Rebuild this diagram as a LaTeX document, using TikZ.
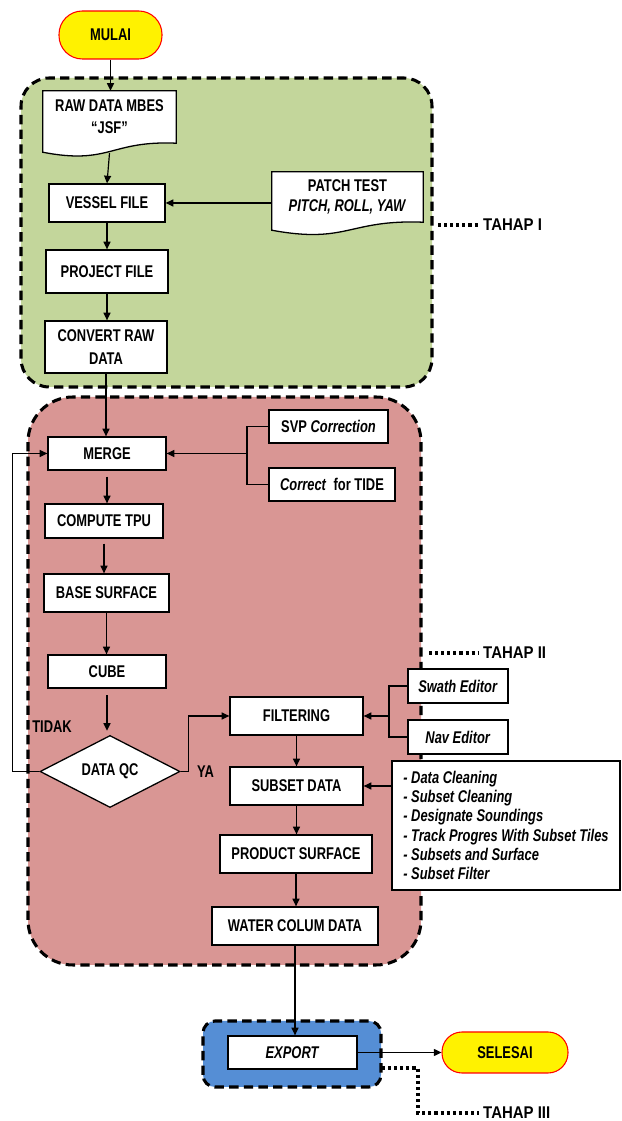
\documentclass[tikz,border=0pt]{standalone}
\usepackage{fontspec}
\setmainfont{Liberation Sans}[FakeStretch=0.76]
\newfontfamily\tahapfont{Liberation Sans}[FakeStretch=0.88]
\usetikzlibrary{arrows.meta,shapes.geometric,positioning}

\definecolor{tahapone}{RGB}{195,214,155}
\definecolor{tahaptwo}{RGB}{217,150,148}
\definecolor{tahapthree}{RGB}{85,142,213}

\newcommand{\chartfont}{\fontsize{14.5}{17}\selectfont\bfseries}

\tikzset{
  box/.style={draw, line width=1.1pt, fill=white, inner sep=0pt, align=center, font=\chartfont},
  docbox/.style={fill=white, inner sep=0pt, align=center, font=\chartfont},
  docline/.style={line width=1.1pt},
  term/.style={draw=red, line width=0.9pt, fill=yellow, inner sep=0pt, font=\chartfont},
  decision/.style={diamond, draw, line width=1.1pt, fill=white, inner sep=0pt, font=\chartfont},
  stage/.style={draw, line width=2.6pt, dash pattern=on 8pt off 4.5pt},
  arr/.style={line width=1pt, -{Triangle[length=6.5pt,width=6pt]}},
  link/.style={line width=1pt},
  tahapline/.style={line width=2.8pt, dash pattern=on 2.6pt off 2.6pt, shorten >=3pt},
  tahaplabel/.style={anchor=west, inner sep=0pt, font=\fontsize{14.5}{17}\tahapfont\bfseries}
}

\begin{document}
\begin{tikzpicture}
            \useasboundingbox (0,0) rectangle (18.66,33.63);

            % Drawing stage areas
            \draw [stage, fill=tahapone, rounded corners=0.85cm] (0.63,22.02) rectangle (12.96,31.29);%
            \draw [stage, fill=tahaptwo, rounded corners=1.35cm] (0.84,4.68) rectangle (12.63,21.72);%
            \draw [stage, fill=tahapthree, rounded corners=0.36cm] (6.09,1.02) rectangle (11.43,3.00);%

            % Start and end
            \node [term, rounded corners=0.7cm, minimum width=3.09cm, minimum height=1.44cm] (mulai) at (3.315,32.58) {MULAI};%
            \node [term, rounded corners=0.6cm, minimum width=3.78cm, minimum height=1.23cm] (selesai) at (15.15,2.055) {SELESAI};%

            % Drawing document RAW DATA MBES
            \node [docbox, minimum width=3.99cm, minimum height=1.56cm] (raw) at (3.285,30.12) {RAW DATA MBES\\[2pt]“JSF”};%
            \fill [white] (raw.south east) .. controls ([xshift=-1.98cm,yshift=0.09cm]raw.south east) and ([xshift=2.01cm,yshift=-0.66cm]raw.south west) .. ([yshift=-0.27cm]raw.south west) -- (raw.south west) -- cycle;%
            \draw [docline] (raw.south east) .. controls ([xshift=-1.98cm,yshift=0.09cm]raw.south east) and ([xshift=2.01cm,yshift=-0.66cm]raw.south west) .. ([yshift=-0.27cm]raw.south west) -- (raw.north west) -- (raw.north east) -- cycle;%

            % Drawing document PATCH TEST
            \node [docbox, minimum width=4.53cm, minimum height=1.5cm] (patch) at (10.425,27.72) {PATCH TEST\\\textit{PITCH, ROLL, YAW}};%
            \fill [white] (patch.south east) .. controls ([xshift=-2.25cm,yshift=0.09cm]patch.south east) and ([xshift=2.28cm,yshift=-0.66cm]patch.south west) .. ([yshift=-0.24cm]patch.south west) -- (patch.south west) -- cycle;%
            \draw [docline] (patch.south east) .. controls ([xshift=-2.25cm,yshift=0.09cm]patch.south east) and ([xshift=2.28cm,yshift=-0.66cm]patch.south west) .. ([yshift=-0.24cm]patch.south west) -- (patch.north west) -- (patch.north east) -- cycle;%

            % Boxes of stage I
            \node [box, minimum width=3.48cm, minimum height=1.14cm] (vessel) at (3.21,27.54) {VESSEL FILE};%
            \node [box, minimum width=3.66cm, minimum height=1.29cm] (project) at (3.21,25.485) {PROJECT FILE};%
            \node [box, minimum width=3.66cm, minimum height=1.56cm] (convert) at (3.18,23.22) {CONVERT RAW\\[2pt]DATA};%

            % Boxes of stage II
            \node [box, minimum width=3.54cm, minimum height=0.99cm] (merge) at (3.21,20.025) {MERGE};%
            \node [box, minimum width=3.57cm, minimum height=0.99cm] (svp) at (9.855,20.835) {SVP \textit{Correction}};%
            \node [box, minimum width=3.78cm, minimum height=0.99cm] (tide) at (9.96,19.095) {\textit{Correct}\ \ for TIDE};%
            \node [box, minimum width=3.54cm, minimum height=1.02cm] (tpu) at (3.12,18.00) {COMPUTE TPU};%
            \node [box, minimum width=3.75cm, minimum height=1.14cm] (base) at (3.195,15.84) {BASE SURFACE};%
            \node [box, minimum width=3.54cm, minimum height=0.99cm] (cube) at (3.21,13.485) {CUBE};%
            \node [decision, minimum width=4.2cm, minimum height=2.13cm] (qc) at (3.30,10.485) {DATA QC};%
            \node [box, minimum width=3.99cm, minimum height=1.14cm] (filter) at (8.895,12.15) {FILTERING};%
            \node [box, minimum width=3.0cm, minimum height=1.02cm] (swath) at (13.74,13.05) {\textit{Swath Editor}};%
            \node [box, minimum width=3.0cm, minimum height=1.02cm] (nav) at (13.74,11.52) {\textit{Nav Editor}};%
            \node [box, minimum width=3.99cm, minimum height=1.14cm] (subset) at (8.895,10.05) {SUBSET DATA};%
            \node [box, align=left, minimum width=6.84cm, minimum height=3.87cm, font=\fontsize{14.5}{16.4}\selectfont\bfseries\itshape] (tools) at (15.18,8.865)
                {- Data Cleaning\\- Subset Cleaning\\- Designate Soundings\\- Track Progres With Subset Tiles\\- Subsets and Surface\\- Subset Filter};%
            \node [box, minimum width=4.56cm, minimum height=1.14cm] (product) at (8.88,8.01) {PRODUCT SURFACE};%
            \node [box, minimum width=4.98cm, minimum height=1.14cm] (water) at (8.85,5.85) {WATER COLUM DATA};%

            % Box of stage III
            \node [box, minimum width=3.87cm, minimum height=0.99cm] (export) at (8.775,2.055) {\textit{EXPORT}};%

            % Decision labels
            \node [inner sep=0pt, font=\chartfont] (tidak) at (1.56,11.82) {TIDAK};%
            \node [inner sep=0pt, font=\chartfont] (ya) at (6.165,10.47) {YA};%

            % Drawing main flow
            \draw [arr] (mulai.south) -- (mulai.south |- raw.north);%
            \draw [arr] ([yshift=-0.3cm]raw.south) -- (vessel.north);%
            \draw [arr] (patch.west |- vessel) -- (vessel.east);%
            \draw [arr] (vessel.south) -- (vessel.south |- project.north);%
            \draw [arr] (project.south) -- (project.south |- convert.north);%
            \draw [arr] (convert.south) -- (convert.south |- merge.north);%
            \draw [arr, shorten <=0.18cm] (merge.south) -- (merge.south |- tpu.north);%
            \draw [arr, shorten <=0.15cm] (tpu.south) -- (tpu.south |- base.north);%
            \draw [arr] (base.south) -- (base.south |- cube.north);%
            \draw [arr, shorten <=0.2cm, shorten >=0.12cm] (cube.south) -- (cube.south |- qc.north);%

            % Corrections into MERGE
            \coordinate (mj) at (7.41,20.025);%
            \draw [link] (svp.west) -| (mj) |- (tide.west);%
            \draw [arr] (mj) -- (merge.east);%

            % Loop back when QC fails, go on when it passes
            \draw [arr] (qc.west) -- ++(-0.81,0) |- (merge.west);%
            \draw [arr] (qc.east) -- ++(0.24,0) |- (filter.west);%

            % Editors into FILTERING
            \coordinate (fj) at (11.67,12.15);%
            \draw [link] (swath.west) -| (fj) |- (nav.west);%
            \draw [arr] (fj) -- (filter.east);%

            \draw [arr] (filter.south) -- (filter.south |- subset.north);%
            \draw [arr] (tools.west |- subset) -- (subset.east);%
            \draw [arr] (subset.south) -- (subset.south |- product.north);%
            \draw [arr] (product.south) -- (product.south |- water.north);%
            \draw [arr] (water.south) -- (water.south |- export.north);%
            \draw [arr] (export) -- (selesai);%

            % Marking stages
            \node [tahaplabel] (tahap1) at (14.49,26.88) {TAHAP I};%
            \coordinate (t1) at (13.14,26.88);%
            \draw [tahapline] (t1) -- (tahap1.west);%

            \node [tahaplabel] (tahap2) at (14.49,14.04) {TAHAP II};%
            \coordinate (t2) at (12.87,14.04);%
            \draw [tahapline] (t2) -- (tahap2.west);%

            \node [tahaplabel] (tahap3) at (14.49,0.24) {TAHAP III};%
            \coordinate (t3) at (11.46,1.59);%
            \draw [tahapline] (t3) -- ++(1.08,0) |- (tahap3.west);%
\end{tikzpicture}
\end{document}
